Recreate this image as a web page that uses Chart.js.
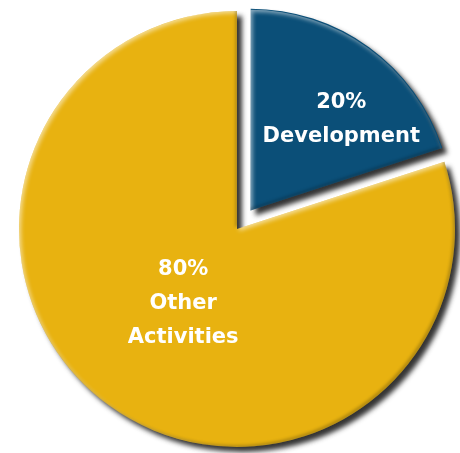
<!DOCTYPE html>
<html>
<head>
<meta charset="utf-8">
<script src="https://cdn.jsdelivr.net/npm/chart.js@4.4.1/dist/chart.umd.min.js"></script>
<style>
html,body{margin:0;padding:0;background:#ffffff;}
#wrap{width:460px;height:453px;}
</style>
</head>
<body>
<div id="wrap"><canvas id="c" width="460" height="453"></canvas></div>
<script>
const categories = ["Development", "Other Activities"];
const values = [20, 80];
const labelLines = [["20%", "Development"], ["80%", "Other", "Activities"]];
const colors = ["#0b4f78", "#e8b210"];

const shrinkBlue = {
  id: 'shrinkBlue',
  afterDatasetsUpdate(chart) {
    const meta = chart.getDatasetMeta(0);
    const a = meta.data[0], b = meta.data[1];
    a.outerRadius = b.outerRadius * 0.92;
  }
};

function arcPath(ctx, arc, shift) {
  const s = shift || 0;
  const mid = (arc.startAngle + arc.endAngle) / 2;
  const off = (arc.options.offset || 0) / 4;
  const cx = arc.x + Math.cos(mid) * off + s;
  const cy = arc.y + Math.sin(mid) * off;
  ctx.moveTo(cx, cy);
  ctx.arc(cx, cy, arc.outerRadius, arc.startAngle, arc.endAngle);
  ctx.closePath();
}

const FAR = 10000;

const shadowPlugin = {
  id: 'shadowPlugin',
  beforeDatasetsDraw(chart) {
    const ctx = chart.ctx;
    ctx.save();
    ctx.shadowColor = 'rgba(30,30,30,0.9)';
    ctx.shadowBlur = 5;
    ctx.shadowOffsetX = 5;
    ctx.shadowOffsetY = 5;
  },
  afterDatasetsDraw(chart) {
    chart.ctx.restore();
    const ctx = chart.ctx;
    const meta = chart.getDatasetMeta(0);
    meta.data.forEach(arc => {
      const passes = [
        {color: 'rgba(255,255,255,0.55)', dx: 2, dy: 2, blur: 4},
        {color: 'rgba(0,0,0,0.22)', dx: -2, dy: -2, blur: 3}
      ];
      passes.forEach(p => {
        ctx.save();
        ctx.beginPath();
        arcPath(ctx, arc, 0);
        ctx.clip();
        ctx.beginPath();
        ctx.rect(FAR - 2000, -2000, 5000, 5000);
        arcPath(ctx, arc, FAR);
        ctx.shadowColor = p.color;
        ctx.shadowBlur = p.blur;
        ctx.shadowOffsetX = p.dx - FAR;
        ctx.shadowOffsetY = p.dy;
        ctx.fillStyle = '#000';
        ctx.fill('evenodd');
        ctx.restore();
      });
    });
  }
};

const labelPlugin = {
  id: 'labelPlugin',
  afterDatasetsDraw(chart) {
    const ctx = chart.ctx;
    const meta = chart.getDatasetMeta(0);
    const cfg = [{ang: 9, frac: 0.64}, {ang: 0, frac: 0.42}];
    meta.data.forEach((arc, i) => {
      const mid = (arc.startAngle + arc.endAngle) / 2;
      const off = (arc.options.offset || 0) / 4;
      const cx = arc.x + Math.cos(mid) * off;
      const cy = arc.y + Math.sin(mid) * off;
      const ang = mid + cfg[i].ang * Math.PI / 180;
      const r = arc.outerRadius * cfg[i].frac;
      const x = cx + Math.cos(ang) * r;
      const y = cy + Math.sin(ang) * r;
      const lines = labelLines[i];
      const lh = 34;
      ctx.save();
      ctx.fillStyle = '#ffffff';
      ctx.font = 'bold 21px "DejaVu Sans", sans-serif';
      ctx.textAlign = 'center';
      ctx.textBaseline = 'middle';
      lines.forEach((t, k) => {
        ctx.fillText(t, x, y + (k - (lines.length - 1) / 2) * lh);
      });
      ctx.restore();
    });
  }
};

new Chart(document.getElementById('c'), {
  type: 'pie',
  data: {
    labels: categories,
    datasets: [{
      data: values,
      backgroundColor: colors,
      borderWidth: 0,
      offset: [92, 0]
    }]
  },
  options: {
    responsive: false,
    animation: false,
    radius: 218,
    layout: { padding: { left: 14, top: 5, right: 0, bottom: 0 } },
    plugins: { legend: { display: false }, tooltip: { enabled: false } }
  },
  plugins: [shrinkBlue, shadowPlugin, labelPlugin]
});
</script>
</body>
</html>
